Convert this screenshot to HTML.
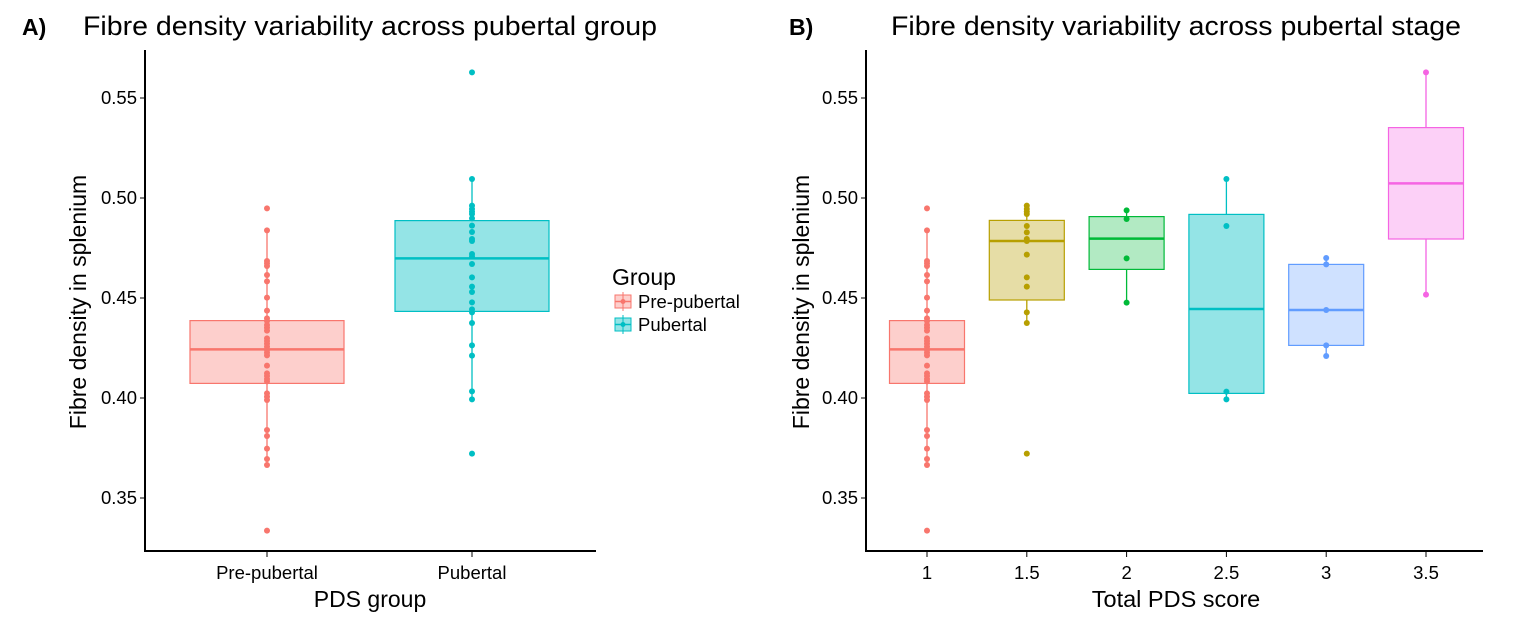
<!DOCTYPE html>
<html><head><meta charset="utf-8">
<style>
html,body{margin:0;padding:0;background:#fff;}
svg{display:block;font-family:"Liberation Sans",Arial,sans-serif;}
</style></head>
<body>
<svg id="chart" width="1520" height="626" viewBox="0 0 1520 626" xmlns="http://www.w3.org/2000/svg">
  <text x="22" y="35" font-size="23" font-weight="bold">A)</text>
  <text x="83" y="35" font-size="27" textLength="574" lengthAdjust="spacingAndGlyphs">Fibre density variability across pubertal group</text>
  <text x="789" y="35" font-size="23" font-weight="bold">B)</text>
  <text x="891" y="35" font-size="27" textLength="570" lengthAdjust="spacingAndGlyphs">Fibre density variability across pubertal stage</text>
  <text x="370" y="607" font-size="23" text-anchor="middle">PDS group</text>
  <text x="1176" y="607" font-size="23.5" text-anchor="middle">Total PDS score</text>
  <text transform="translate(86,302) rotate(-90)" font-size="23" text-anchor="middle">Fibre density in splenium</text>
  <text transform="translate(809,302) rotate(-90)" font-size="23" text-anchor="middle">Fibre density in splenium</text>
  <g>
    <text x="612" y="285" font-size="23">Group</text>
    <g>
      <line x1="623" y1="292" x2="623" y2="311" stroke="#F8766D" stroke-width="1"/>
      <rect x="615" y="295" width="16" height="13" fill="rgba(248,118,109,0.35)" stroke="#F8766D"/>
      <line x1="615" y1="301.5" x2="631" y2="301.5" stroke="#F8766D" stroke-width="1.5"/>
      <circle cx="623" cy="301.5" r="2.5" fill="#F8766D"/>
      <text x="638" y="308" font-size="18.5">Pre-pubertal</text>
    </g>
    <g>
      <line x1="623" y1="315" x2="623" y2="334" stroke="#00BFC4" stroke-width="1"/>
      <rect x="615" y="318" width="16" height="13" fill="rgba(0,191,196,0.42)" stroke="#00BFC4"/>
      <line x1="615" y1="324.5" x2="631" y2="324.5" stroke="#00BFC4" stroke-width="1.5"/>
      <circle cx="623" cy="324.5" r="2.5" fill="#00BFC4"/>
      <text x="638" y="331" font-size="18.5">Pubertal</text>
    </g>
  </g>
</svg>
<script>
// ---- data ----
const yTicks = [0.35, 0.40, 0.45, 0.50, 0.55];
const yTickLabels = ["0.35", "0.40", "0.45", "0.50", "0.55"];
const groupCats = ["Pre-pubertal", "Pubertal"];
const stageCats = ["1", "1.5", "2", "2.5", "3", "3.5"];

const prePubertal = [0.4948,0.4838,0.4685,0.4673,0.466,0.4615,0.4583,0.4502,0.4437,0.4398,0.4385,0.4365,0.4352,0.4337,0.4298,0.4285,0.4272,0.4257,0.424,0.4227,0.4213,0.4162,0.4123,0.411,0.4095,0.4083,0.4023,0.4007,0.399,0.384,0.381,0.3747,0.3695,0.3665,0.3337];
const pubertal = [0.5628,0.5095,0.4962,0.4945,0.4932,0.492,0.4898,0.4862,0.483,0.4795,0.4785,0.472,0.4708,0.467,0.4603,0.4557,0.453,0.4478,0.4443,0.4428,0.4375,0.4263,0.4212,0.4033,0.3993,0.3722];
const stage15 = [0.4962,0.4945,0.4932,0.492,0.486,0.4828,0.4795,0.4785,0.4717,0.4603,0.4557,0.4428,0.4375,0.3722];
const stage2 = [0.4938,0.4895,0.4698,0.4477];
const stage25 = [0.5095,0.486,0.4032,0.3993];
const stage3 = [0.47,0.4668,0.444,0.4263,0.421];
const stage35 = [0.5628,0.4517];

// box stats: [lowerWhisker, q1, median, q3, upperWhisker]
const groupStats = [[0.3665,0.4073,0.4243,0.4387,0.4838],[0.3993,0.4433,0.4698,0.4887,0.5095]];
const stageStats = [[0.3665,0.4073,0.4243,0.4387,0.4838],[0.4375,0.449,0.4785,0.4888,0.4962],[0.4477,0.4643,0.4797,0.4907,0.4938],[0.3993,0.4023,0.4445,0.4918,0.5095],[0.421,0.4263,0.444,0.4668,0.47],[0.4517,0.4795,0.5073,0.5352,0.5628]];

const groupColors = ["#F8766D","#00BFC4"];
const stageColors = ["#F8766D","#B79F00","#00BA38","#00BFC4","#619CFF","#F564E3"];
const stageFills = ["rgba(248,118,109,0.35)","rgba(183,159,0,0.35)","rgba(0,186,56,0.3)","rgba(0,191,196,0.42)","rgba(97,156,255,0.3)","rgba(245,100,227,0.3)"];

const svg = document.getElementById('chart');
const NS = "http://www.w3.org/2000/svg";
function mk(tag, attrs, parent){const e=document.createElementNS(NS,tag);for(const k in attrs)e.setAttribute(k,attrs[k]);(parent||svg).appendChild(e);return e;}
function yScale(v){return 498 - (v-0.35)*2000;}

function panel(name, x0, x1, cats, xPos, stats, points, colors, fills, boxW){
  const g = mk('g',{});
  
  
  stats.forEach((s,i)=>{
    const cx = xPos(i), c = colors[i];
    const bg = mk('g',{},g);
    
    
    mk('line',{x1:cx,x2:cx,y1:yScale(s[4]),y2:yScale(s[3]),stroke:c,'stroke-width':1.3},bg);
    mk('line',{x1:cx,x2:cx,y1:yScale(s[1]),y2:yScale(s[0]),stroke:c,'stroke-width':1.3},bg);
    mk('rect',{x:cx-boxW/2,y:yScale(s[3]),width:boxW,height:yScale(s[1])-yScale(s[3]),fill:fills[i],stroke:c,'stroke-width':1.2},bg);
    mk('line',{x1:cx-boxW/2,x2:cx+boxW/2,y1:yScale(s[2]),y2:yScale(s[2]),stroke:c,'stroke-width':2.5},bg);
    points[i].forEach(v=>{
      const p = mk('circle',{cx:cx,cy:yScale(v),r:3,fill:c},bg);
      
      
    });
  });
  const yAxis = mk('line',{x1:x0,x2:x0,y1:50,y2:552,stroke:'#000','stroke-width':2},g);
  
  
  const xAxis = mk('line',{x1:x0-1,x2:x1,y1:551,y2:551,stroke:'#000','stroke-width':2},g);
  
  
  yTicks.forEach((t,i)=>{
    mk('line',{x1:x0-5,x2:x0,y1:yScale(t),y2:yScale(t),stroke:'#000','stroke-width':1},g);
    const tl = mk('text',{x:x0-8,y:yScale(t)+6,'font-size':18.5,'text-anchor':'end',fill:'#000'},g);
    tl.textContent = yTickLabels[i];
    
    
  });
  cats.forEach((c,i)=>{
    const cx = xPos(i);
    mk('line',{x1:cx,x2:cx,y1:552,y2:557,stroke:'#000','stroke-width':1},g);
    const tl = mk('text',{x:cx,y:579,'font-size':18.5,'text-anchor':'middle',fill:'#000'},g);
    tl.textContent = c;
    
    
  });
}

panel('panel-a', 145, 596, groupCats, i=>267+i*205, groupStats, [prePubertal,pubertal], groupColors,
      ["rgba(248,118,109,0.35)","rgba(0,191,196,0.42)"], 154);
panel('panel-b', 866, 1483, stageCats, i=>927+i*99.8, stageStats,
      [prePubertal,stage15,stage2,stage25,stage3,stage35], stageColors, stageFills, 75);
</script>
</body></html>
